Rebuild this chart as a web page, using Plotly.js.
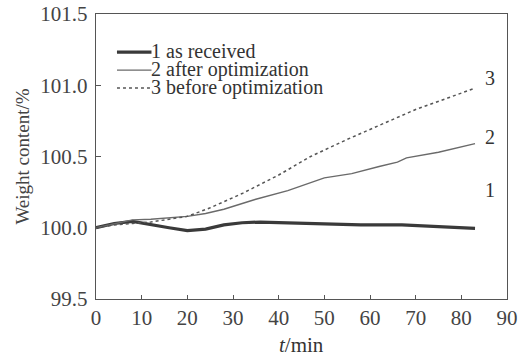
<!DOCTYPE html>
<html><head><meta charset="utf-8">
<script src="https://cdn.plot.ly/plotly-3.0.1.min.js"></script>
<style>html,body{margin:0;padding:0;background:#fff}#c{width:525px;height:356px}</style>
</head><body><div id="c"></div>
<script>
const t1 = [0, 4, 8, 12, 16, 20, 24, 28, 32, 36, 42, 50, 58, 67, 75, 83];
const y1 = [100.0, 100.03, 100.045, 100.02, 100.0, 99.98, 99.99, 100.02, 100.035, 100.04, 100.035, 100.03, 100.02, 100.02, 100.01, 99.995];
const t2 = [0, 4, 8, 12, 16, 20, 24, 28, 35, 42, 50, 56, 62, 66, 68, 75, 83];
const y2 = [100.0, 100.03, 100.055, 100.06, 100.07, 100.08, 100.1, 100.13, 100.2, 100.26, 100.35, 100.38, 100.43, 100.46, 100.49, 100.53, 100.59];
const t3 = [0, 4, 8, 12, 16, 20, 25, 32, 40, 47, 55, 62, 70, 77, 83];
const y3 = [100.0, 100.02, 100.03, 100.04, 100.06, 100.08, 100.14, 100.24, 100.37, 100.5, 100.62, 100.72, 100.83, 100.91, 100.98];
const names = ["1 as received", "2 after optimization", "3 before optimization"];
const endLabels = ["1", "2", "3"];
const endX = [86.2, 86.2, 86.2];
const endY = [100.265, 100.64, 101.05];

const colors = ['#3a3a3a', '#6a6a6a', '#555'];
const widths = [3.2, 1.4, 1.5];
const dashes = ['solid', 'solid', 'dot'];
const serif = 'Liberation Serif, Times New Roman, serif';

const traces = [
  {x: t1, y: y1, name: names[0], mode: 'lines', line: {color: colors[0], width: widths[0]}},
  {x: t2, y: y2, name: names[1], mode: 'lines', line: {color: colors[1], width: widths[1]}},
  {x: t3, y: y3, name: names[2], mode: 'lines', line: {color: colors[2], width: widths[2], dash: dashes[2]}}
];

const ann = endLabels.map((s, i) => ({x: endX[i], y: endY[i], text: s, showarrow: false,
  font: {family: serif, size: 20, color: '#333'}}));
ann.push({xref: 'paper', yref: 'paper', x: 0.5, y: -0.161, yanchor: 'middle', showarrow: false,
  text: '<i>t</i>/min', font: {family: serif, size: 21, color: '#333'}});

// legend: one multi-line text (tight line spacing) + sample line shapes (paper coords)
const legY = [0.870, 0.807, 0.744];
ann.push({xref: 'paper', yref: 'paper', x: 0.131, y: legY[1], xanchor: 'left', yanchor: 'middle',
  showarrow: false, align: 'left', borderpad: 0,
  text: names.map(n => '<span style="font-size:20px">' + n + '</span>').join('<br>'),
  font: {family: serif, size: 14, color: '#333'}});
const shapes = names.map((n, i) => ({type: 'line', xref: 'paper', yref: 'paper', x0: 0.051, x1: 0.135,
  y0: legY[i] - 0.004, y1: legY[i] - 0.004, line: {color: colors[i], width: widths[i], dash: dashes[i]}}));

const layout = {
  width: 525, height: 356,
  margin: {l: 96, r: 18, t: 14, b: 57},
  paper_bgcolor: '#fff', plot_bgcolor: '#fff',
  font: {family: serif, size: 20, color: '#444'},
  showlegend: false,
  xaxis: {range: [0, 90], dtick: 10, tick0: 0, ticks: 'inside', ticklen: 4, tickcolor: '#555',
    showline: true, linecolor: '#555', linewidth: 1.2, mirror: true, showgrid: false, zeroline: false,
    tickfont: {family: serif, size: 21, color: '#444'}},
  yaxis: {range: [99.5, 101.5], dtick: 0.5, tick0: 99.5, ticks: 'inside', ticklen: 5, tickcolor: '#555',
    tickformat: '.1f', showline: true, linecolor: '#555', linewidth: 1.2, mirror: true, showgrid: false, zeroline: false,
    ticklabelstandoff: 3,
    tickfont: {family: serif, size: 21, color: '#444'},
    title: {text: 'Weight content/%', standoff: 5, font: {family: serif, size: 19, color: '#444'}}},
  annotations: ann,
  shapes: shapes
};
Plotly.newPlot('c', traces, layout, {staticPlot: true});
</script></body></html>
